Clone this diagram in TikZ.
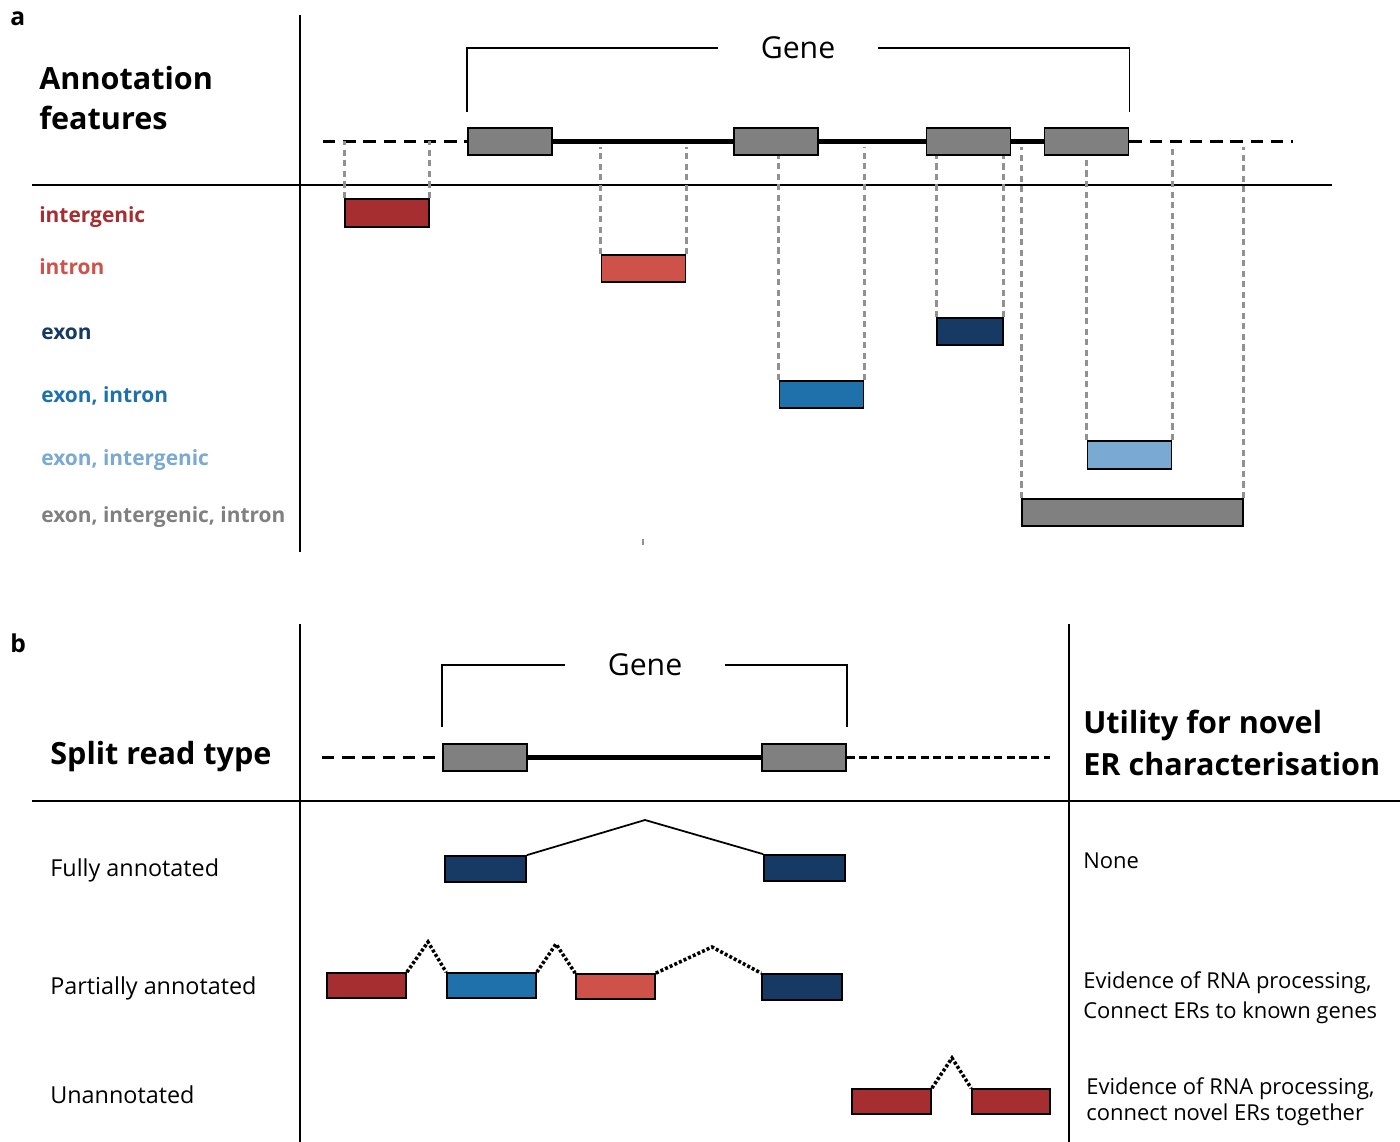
\documentclass[tikz,border=0pt]{standalone}
\usepackage{fontspec}
\setmainfont{Open Sans}
\usepackage{tikz}
\usetikzlibrary{positioning}

\begin{document}
\begin{tikzpicture}[x=0.02cm,y=-0.02cm,
	every node/.style={inner sep=0pt},
	rule/.style={line width=1.1pt},
	txt/.style={anchor=base west},
	panel/.style={txt,font=\fontsize{14}{16}\selectfont\bfseries},
	head/.style={txt,font=\fontsize{17.4}{20}\selectfont\bfseries},
	feature/.style={txt,font=\fontsize{11.9}{14}\selectfont\bfseries},
	body/.style={txt,font=\fontsize{13.3}{15}\selectfont},
	note/.style={txt,font=\fontsize{12.5}{15}\selectfont},
	gene label/.style={font=\fontsize{17.2}{20}\selectfont,inner xsep=0.85cm},
	box/.style={draw=black,line width=1pt,rectangle,minimum width=1.68cm,minimum height=0.54cm},
	exon/.style={box,fill=exongrey},
	gene line/.style={line width=2.3pt},
	outside/.style={line width=2.1pt,dash pattern=on 7pt off 4.5pt},
	bracket/.style={line width=0.9pt},
	guide/.style={guidegrey,line width=1.6pt,dash pattern=on 3.5pt off 2.5pt},
	junction/.style={line width=1pt},
	loose junction/.style={line width=2pt,dash pattern=on 1.7pt off 1.2pt}]
	
	\definecolor{darkred}{RGB}{166,45,48}
	\definecolor{lightred}{RGB}{206,82,74}
	\definecolor{navy}{RGB}{22,58,100}
	\definecolor{midblue}{RGB}{30,113,170}
	\definecolor{lightblue}{RGB}{122,169,210}
	\definecolor{exongrey}{RGB}{128,128,128}
	\definecolor{guidegrey}{RGB}{145,145,145}
	
	\useasboundingbox (0,0) rectangle (1400,1142);
	
	% panel a
	\draw[rule] (300,15) -- (300,552);
	\draw[rule] (32,185) -- (1332,185);
	
	\node[panel] (pa) at (10,26) {a};
	\node[head] (anno) at (39,90) {Annotation};
	\node[head] (feat) at (39,130) {features};
	
	\node[feature,text=darkred] (t1) at (39,223) {intergenic};
	\node[feature,text=lightred] (t2) at (39,275) {intron};
	\node[feature,text=navy] (t3) at (41,339) {exon};
	\node[feature,text=midblue] (t4) at (41,402) {exon, intron};
	\node[feature,text=lightblue] (t5) at (41,465) {exon, intergenic};
	\node[feature,text=exongrey] (t6) at (41,522) {exon, intergenic, intron};
	
	\node[exon] (e1) at (510,141.5) {};
	\node[exon] (e2) at (776,141.5) {};
	\node[exon] (e3) at (968.5,141.5) {};
	\node[exon] (e4) at (1086.5,141.5) {};
	\coordinate (la) at (323,141.5);
	\coordinate (ra) at (1293,141.5);
	\coordinate (gl) at (0,147);
	
	\draw[outside] (la) -- (e1.west);
	\draw[gene line] (e1.east) -- (e2.west);
	\draw[gene line] (e2.east) -- (e3.west);
	\draw[gene line] (e3.east) -- (e4.west);
	\draw[outside] (e4.east) -- (ra);
	
	\node[gene label] (genea) at (798,48) {Gene};
	\draw[bracket] ([yshift=0.3cm]e1.north west) |- (genea.west);
	\draw[bracket] (genea.east) -| ([yshift=0.3cm]e4.north east);
	
	\node[box,fill=darkred,minimum height=0.56cm] (ig) at (387,213) {};
	\node[box,fill=lightred] (in) at (643.5,268.5) {};
	\node[box,fill=navy,minimum width=1.32cm] (ex) at (970,331.5) {};
	\node[box,fill=midblue] (exin) at (821.5,394.5) {};
	\node[box,fill=lightblue,minimum height=0.56cm] (exig) at (1129.5,455) {};
	\node[box,fill=exongrey,minimum width=4.42cm] (exigin) at (1132.5,512.5) {};
	
	\draw[guide] (ig.north west) -- (ig.north west |- la);
	\draw[guide] (ig.north east) -- (ig.north east |- la);
	\draw[guide] (in.north west) -- (in.north west |- gl);
	\draw[guide] (in.north east) -- (in.north east |- gl);
	\draw[guide] (ex.north west) -- (ex.north west |- e3.south);
	\draw[guide] (ex.north east) -- (ex.north east |- e3.south);
	\draw[guide] (exin.north west) -- (exin.north west |- e2.south);
	\draw[guide] (exin.north east) -- (exin.north east |- gl);
	\draw[guide] (exig.north west) -- (exig.north west |- e4.south);
	\draw[guide] (exig.north east) -- (exig.north east |- gl);
	\draw[guide] (exigin.north west) -- (exigin.north west |- gl);
	\draw[guide] (exigin.north east) -- (exigin.north east |- gl);
	
	\draw[guidegrey,line width=0.8pt] (643,539) -- (643,545);
	
	% panel b
	\draw[rule] (300,624) -- (300,1142);
	\draw[rule] (1069,624) -- (1069,1142);
	\draw[rule] (32,801) -- (1400,801);
	
	\node[panel] (pb) at (10,652) {b};
	\node[head] (split) at (50,764) {Split read type};
	\node[head] (util1) at (1083,733) {Utility for novel};
	\node[head] (util2) at (1083,775) {ER characterisation};
	
	\node[exon] (f1) at (485,757.5) {};
	\node[exon] (f2) at (804,757.5) {};
	\coordinate (lb) at (322,757.5);
	\coordinate (rb) at (1050,757.5);
	\draw[outside] (lb) -- (f1.west);
	\draw[gene line] (f1.east) -- (f2.west);
	\draw[line width=2.1pt,dash pattern=on 4.5pt off 2.5pt] (f2.east) -- (rb);
	
	\node[gene label] (geneb) at (645,665) {Gene};
	\draw[bracket] ([yshift=0.32cm]f1.north west) |- (geneb.west);
	\draw[bracket] (geneb.east) -| ([yshift=0.32cm]f2.north east);
	
	% split reads
	\node[body] (fully) at (50,876) {Fully annotated};
	\node[body] (partial) at (50,994) {Partially annotated};
	\node[body] (unann) at (50,1103) {Unannotated};
	
	\node[box,fill=navy,minimum width=1.62cm,minimum height=0.52cm] (r1a) at (485.5,869) {};
	\node[box,fill=navy,minimum width=1.62cm,minimum height=0.52cm] (r1b) at (804.5,868) {};
	\coordinate (p1) at (645,820);
	\draw[junction] (r1a.north east) -- (p1) -- (r1b.north west);
	
	\node[box,fill=darkred,minimum width=1.58cm,minimum height=0.5cm] (r2a) at (366.5,985.5) {};
	\node[box,fill=midblue,minimum width=1.78cm,minimum height=0.5cm] (r2b) at (491.5,985.5) {};
	\node[box,fill=lightred,minimum width=1.58cm,minimum height=0.5cm] (r2c) at (615.5,986.5) {};
	\node[box,fill=navy,minimum width=1.6cm,minimum height=0.52cm] (r2d) at (802,987) {};
	\coordinate (p2) at (428,942);
	\coordinate (p3) at (556,944);
	\coordinate (p4) at (712,947);
	\draw[loose junction] (r2a.north east) -- (p2) -- (r2b.north west);
	\draw[loose junction] (r2b.north east) -- (p3) -- (r2c.north west);
	\draw[loose junction] (r2c.north east) -- (p4) -- (r2d.north west);
	
	\node[box,fill=darkred,minimum width=1.58cm,minimum height=0.5cm] (r3a) at (891.5,1101.5) {};
	\node[box,fill=darkred,minimum width=1.56cm,minimum height=0.5cm] (r3b) at (1011,1101.5) {};
	\coordinate (p5) at (952,1058);
	\draw[loose junction] (r3a.north east) -- (p5) -- (r3b.north west);
	
	\node[note] (none) at (1083,868) {None};
	\node[note] (ev1) at (1083,988) {Evidence of RNA processing,};
	\node[note] (ev2) at (1083,1018) {Connect ERs to known genes};
	\node[note] (ev3) at (1086,1094) {Evidence of RNA processing,};
	\node[note] (ev4) at (1086,1120) {connect novel ERs together};
\end{tikzpicture}
\end{document}
